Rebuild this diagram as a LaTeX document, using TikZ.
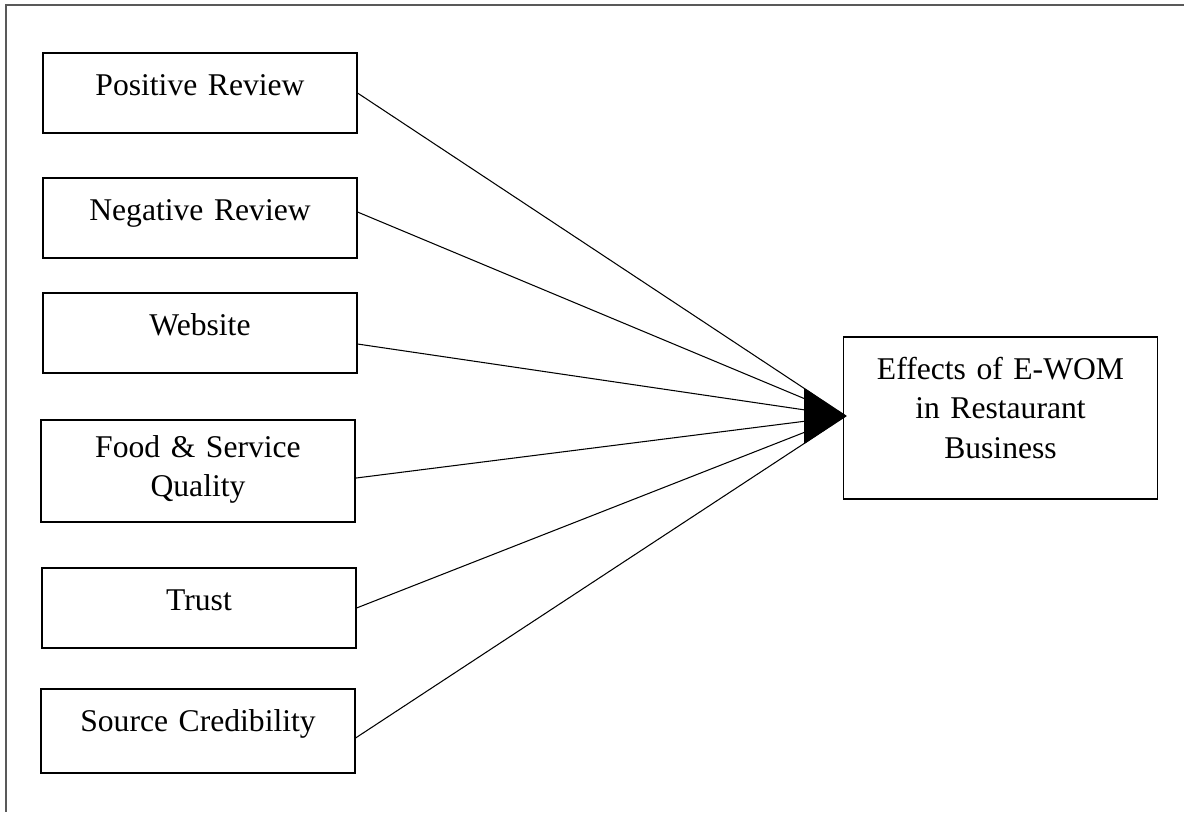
\documentclass[tikz,border=0pt]{standalone}
\usepackage{fontspec}
\setmainfont{Liberation Serif}
\usetikzlibrary{arrows.meta}

\begin{document}
\begin{tikzpicture}[
  font=\fontsize{18}{22.5}\selectfont,
  factor/.style={draw, line width=0.6pt, inner sep=0pt, text width=62.8mm,
                 align=center, text height=8.4mm, text depth=7.6mm},
  link/.style={line width=0.6pt},
  ewom/.style={-{Triangle[length=8.4mm, width=11.2mm]}, line width=0.6pt},
  frame/.style={draw, line width=1pt, black!65}
]
\useasboundingbox (0mm,0mm) rectangle (236.8mm,-162.4mm);

%% ---------- outer frame ----------
\draw[frame] (236.8mm,-1mm) -- (1.2mm,-1mm) -- (1.2mm,-162.4mm);

%% ---------- factors ----------
\node[factor] (pos)   at (40mm,-18.6mm)   {Positive Review};
\node[factor] (neg)   at (40mm,-43.6mm)   {Negative Review};
\node[factor] (web)   at (40mm,-66.6mm)   {Website};
\node[factor, line width=1.3pt, text height=7.4mm, text depth=13mm]
              (food)  at (39.6mm,-94.2mm) {Food \& Service\\Quality};
\node[factor] (trust) at (39.8mm,-121.6mm) {Trust};
\node[factor, text depth=8.4mm]
              (src)   at (39.6mm,-146.2mm) {Source Credibility};

%% ---------- outcome ----------
\node[factor, text depth=24mm] (effect) at (200.1mm,-83.6mm)
  {Effects of E-WOM\\in Restaurant\\Business};

%% ---------- links ----------
\coordinate (hub) at (160.8mm,-83.2mm);
\coordinate (tip) at (169.2mm,-83.2mm);
\foreach \f/\s in {pos/0,neg/1.2,web/-2.2,food/-1.4,trust/0,src/-1.4}
  \draw[link] ([yshift=\s mm]\f.east) -- (tip);
\draw[ewom] (hub) -- (tip);
\end{tikzpicture}
\end{document}
